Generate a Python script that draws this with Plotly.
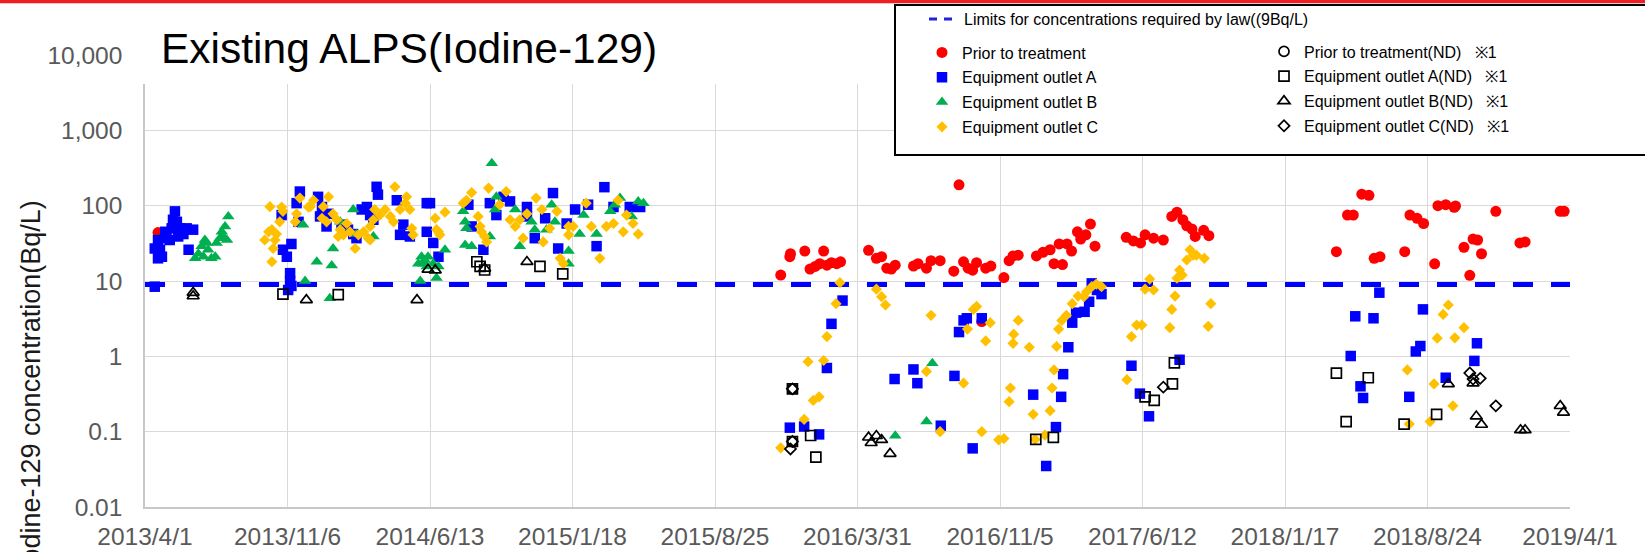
import pandas as pd
import plotly.graph_objects as go

# ---------------- data (day offsets are counted from 2013/4/1; values in Bq/L) ----------------
START = pd.Timestamp("2013-04-01")

tick_days = [0, 219, 438, 657, 876, 1095, 1314, 1533, 1752, 1971, 2190]
tick_labels = ["2013/4/1", "2013/11/6", "2014/6/13", "2015/1/18", "2015/8/25", "2016/3/31",
               "2016/11/5", "2017/6/12", "2018/1/17", "2018/8/24", "2019/4/1"]

y_tickvals = [0.01, 0.1, 1, 10, 100, 1000, 10000]
y_ticktext = ["0.01", "0.1", "1", "10", "100", "1,000", "10,000"]

limit_days = [0, 2190]
limit_vals = [9, 9]

prior_days = [20, 977, 991, 992, 1014, 1022, 1030, 1037, 1043, 1048, 1055, 1063, 1069, 1112, 1124, 1132,
              1140, 1147, 1153, 1181, 1188, 1201, 1208, 1222, 1243, 1251, 1258, 1265, 1272, 1278, 1286,
              1292, 1300, 1320, 1328, 1334, 1342, 1370, 1380, 1391, 1397, 1410, 1405, 1417, 1424, 1433,
              1438, 1446, 1453, 1460, 1508, 1519, 1530, 1537, 1550, 1565, 1578, 1586, 1595, 1601, 1609,
              1614, 1627, 1635, 1831, 1848, 1857, 1870, 1881, 1889, 1898, 1936, 1944, 1955, 1965, 1982,
              1987, 1999, 2012, 2014, 2027, 2036, 2041, 2048, 2054, 2076, 2113, 2121, 2175, 2181]
prior_vals = [44, 12, 21, 23, 25, 14.4, 15.6, 17, 25, 16.2, 17.5, 17, 18, 25.5, 20, 21,
              14.8, 14.4, 16.2, 15.8, 17, 14.8, 18.6, 18.6, 13.5, 189, 18, 14.8, 13.9, 17.5, 2.9,
              14.8, 15.8, 11.1, 18.6, 21.5, 22, 21.5, 24, 26, 17, 16.5, 31, 31, 25, 45,
              36, 41, 57, 29, 38, 34, 32, 41, 37, 35, 72, 82, 65, 54, 49,
              39, 47, 40, 24.5, 75, 75, 142, 137, 20, 21, 24.5, 75, 68, 58, 16.9,
              100, 103, 95, 99, 28, 11.9, 36, 35, 23, 84, 32, 33, 84, 84]

a_days = [15, 46, 43, 41, 31, 54, 64, 74, 20, 15, 20, 26, 33, 51, 59, 67, 49, 23, 38,
          210, 212, 218, 225, 223, 223, 225, 220, 233, 238, 266, 272, 236, 269,
          282, 279, 320, 333, 341, 346, 356, 358, 351, 387, 392, 397, 407, 433, 433, 312, 302, 325,
          438, 443, 451,
          497, 502, 520, 530, 540, 551, 561, 587, 587, 599, 615, 627, 635, 648, 661, 681, 694, 706,
          720, 745, 761,
          1072, 1055, 1048, 991, 1013, 1036, 1152, 1181, 1187, 1223, 1244, 1258, 1263, 1286, 1251, 1272,
          1385, 1365, 1400, 1408, 1411, 1419, 1425, 1431, 1444, 1451, 1455, 1470, 1463, 1516, 1529,
          1543, 1590,
          1897, 1860, 1888, 1853, 1868, 1872, 1964, 1960, 1953, 1943, 1999, 2047, 2043]
a_vals = [8.4, 84, 65, 50, 45, 50, 50, 48, 35, 27, 20, 21, 37, 39, 42, 26, 61, 26, 35,
          75, 26, 21, 31, 12.7, 10, 8.6, 7.6, 108, 154, 131, 96, 61, 72,
          78, 53, 42, 89, 96, 75, 178, 140, 65, 118, 41, 56, 39, 108, 45, 48, 56, 37,
          108, 32, 21,
          103, 53, 26, 108, 75, 131, 114, 96, 72, 37, 68, 147, 27, 58, 89, 103, 29, 176,
          96, 96, 96,
          5.5, 2.7, 0.70, 0.113, 0.117, 0.092, 0.50, 0.67, 0.44, 0.12, 0.55, 3.0, 3.2, 3.2, 2.1, 0.060,
          0.035, 0.31, 0.115, 0.29, 0.58, 1.32, 2.8, 3.8, 3.9, 5.3, 9.3, 6.7, 7.6, 0.75, 0.32,
          0.16, 0.90,
          7.0, 3.4, 3.2, 1.01, 0.40, 0.28, 4.2, 1.37, 1.16, 0.29, 0.52, 1.49, 0.87]

b_days = [128, 123, 118, 115, 126, 110, 92, 87, 82, 77, 97, 102, 108, 90, 120, 95,
          246, 243, 264, 289, 287, 284, 320, 300, 325, 351, 420, 425, 430, 423,
          428, 435, 443, 451, 448, 461, 433,
          533, 489, 492, 494, 492, 502, 530, 540, 538, 569, 576, 594, 599, 617, 625, 630, 651, 651,
          674, 668, 694, 715, 722, 730, 758, 766, 748,
          1210, 1201, 1153]
b_vals = [72, 53, 45, 37, 35, 32, 35, 29, 23, 20, 26, 20, 21, 21, 39, 32,
          10, 56, 18, 27, 16, 5.9, 89, 61, 42, 39, 17, 21, 19, 10,
          17, 21, 17, 15.6, 11, 26, 15.6,
          366, 84, 61, 50, 30, 29, 39, 131, 89, 89, 29, 61, 48, 48, 103, 61, 25, 17,
          75, 42, 42, 84, 103, 126, 114, 108, 72,
          0.81, 0.136, 0.088]

c_days = [192, 184, 190, 195, 197, 202, 207, 210, 212, 200, 195,
          238, 233, 231, 254, 259, 251, 282, 274, 272, 279, 289, 295, 300, 297, 310, 315, 323, 328,
          336, 343, 346, 351, 361, 369, 377, 382, 384, 392, 400, 402, 407, 410, 412, 353, 346, 305,
          446, 461, 451, 453, 448, 489, 502, 494, 528, 512, 515, 517, 522, 525, 545, 555, 561, 569,
          576, 587, 581, 601, 610, 612, 622, 633, 638, 643, 651, 658, 651, 678, 686, 699, 709, 720,
          727, 735, 740, 750, 758,
          1068, 1062, 1048, 1043, 1019, 1036, 1027, 1013, 977, 1124, 1132, 1138, 1208, 1201, 1222,
          1258, 1264, 1273, 1278, 1299, 1292, 1286, 1312,
          1320, 1328, 1330, 1335, 1334, 1342, 1359, 1365, 1368, 1383, 1391, 1394, 1397, 1401, 1404,
          1409, 1416, 1425, 1434, 1443, 1447, 1455, 1462, 1470, 1509, 1516, 1524, 1532, 1537, 1544,
          1550, 1575, 1578, 1583, 1586, 1590, 1594, 1601, 1606, 1611, 1616, 1628, 1638, 1634,
          2003, 1995, 1986, 2013, 2027, 1940, 1981, 2010, 1975, 1943]
c_vals = [97, 35, 45, 18, 27, 42, 61, 96, 84, 35, 48,
          126, 78, 61, 97, 118, 96, 131, 97, 68, 61, 78, 65, 48, 39, 58, 45, 27, 41,
          45, 37, 53, 65, 75, 89, 72, 61, 178, 89, 108, 131, 89, 50, 41, 89, 35, 41,
          68, 82, 45, 41, 48, 108, 149, 118, 171, 72, 53, 45, 39, 33, 103, 154, 65, 53,
          65, 78, 37, 126, 89, 33, 50, 84, 20, 17, 53, 53, 41, 108, 53, 20, 53, 58,
          118, 45, 75, 58, 42,
          9.5, 5.0, 1.83, 0.88, 0.85, 0.29, 0.26, 0.146, 0.061, 7.8, 6.2, 4.8, 3.5, 0.63, 0.10,
          0.44, 2.3, 4.2, 4.6, 2.8, 1.6, 0.10, 0.078,
          0.081, 0.25, 0.38, 1.97, 1.49, 3.0, 1.32, 0.17, 0.079, 0.090, 0.19, 0.38, 0.66, 1.35, 2.3,
          3.0, 3.5, 5.0, 6.3, 6.2, 7.2, 8.4, 9.1, 8.4, 0.49, 1.83, 2.6, 2.6, 7.8, 10.6,
          7.6, 2.4, 4.2, 6.3, 10.9, 14, 12, 19, 26, 22, 22, 20, 5.0, 2.5,
          4.8, 3.6, 1.74, 1.76, 2.4, 0.66, 0.43, 0.22, 0.136, 0.126]

prior_nd_days = [995, 995]
prior_nd_vals = [0.37, 0.074]

a_nd_days = [212, 297, 510, 515, 522, 607, 642, 995, 995, 1023, 1031, 1369, 1396, 1537, 1551,
             1579, 1582, 1831, 1880, 1846, 1935, 1985]
a_nd_vals = [6.7, 6.6, 18, 15.6, 14, 15.6, 12.4, 0.37, 0.074, 0.089, 0.046, 0.079, 0.084, 0.29, 0.26,
             0.43, 0.82, 0.60, 0.52, 0.136, 0.126, 0.17]

b_nd_days = [74, 74, 248, 418, 435, 446, 587, 522, 1112, 1124, 1132, 1116, 1145, 2003, 2041, 2046,
             2054, 2114, 2121, 2175, 2180]
b_nd_vals = [7.0, 6.3, 5.6, 5.6, 14.2, 13.9, 18, 14.7, 0.084, 0.088, 0.078, 0.071, 0.051, 0.43, 0.44,
             0.16, 0.124, 0.105, 0.105, 0.22, 0.18]

c_nd_days = [995, 995, 992, 1565, 2036, 2052, 2076, 2041]
c_nd_vals = [0.37, 0.074, 0.059, 0.39, 0.60, 0.51, 0.22, 0.50]

# ---------------- figure ----------------
FONT = "Liberation Sans, Arial, sans-serif"
W, H = 1645, 552
ML, MR, MT, MB = 145, 75, 55, 45
PW, PH = W - ML - MR, H - MT - MB


def px(x):
    return (x - ML) / PW


def py(y):
    return (H - MB - y) / PH


def cx(x):
    return x / W


def cy(y):
    return 1 - y / H


def dates(days):
    return [START + pd.Timedelta(days=int(d)) for d in days]


fig = go.Figure()

fig.add_trace(go.Scatter(x=dates(limit_days), y=limit_vals, mode="lines",
                         line=dict(color="#0000FF", width=5, dash="20px,18px"),
                         showlegend=False, hoverinfo="skip"))
fig.add_trace(go.Scatter(x=[None], y=[None], mode="lines",
                         line=dict(color="#2020E0", width=3, dash="8px,7px"),
                         name="Limits for concentrations required by law((9Bq/L)", legend="legend"))

series = [
    ("Prior to treatment", prior_days, prior_vals, "circle", "#FF0000", 11, "legend2", 1),
    ("Equipment outlet A", a_days, a_vals, "square", "#0000FF", 10.5, "legend2", 2),
    ("Equipment outlet B", b_days, b_vals, "triangle-up", "#00B050", 11, "legend2", 3),
    ("Equipment outlet C", c_days, c_vals, "diamond", "#FFC000", 8.6, "legend2", 4),
]
for name, d, v, sym, col, size, lg, rank in series:
    fig.add_trace(go.Scatter(x=dates(d), y=v, mode="markers", name=name,
                             marker=dict(symbol=sym, color=col, size=size, line=dict(width=0)),
                             legend=lg, legendgroup=name, legendrank=rank))

nd_series = [
    ("Prior to treatment(ND)\u00a0\u00a0\u00a0※1", prior_nd_days, prior_nd_vals, "circle-open", 10, 1),
    ("Equipment outlet A(ND)\u00a0\u00a0\u00a0※1", a_nd_days, a_nd_vals, "square-open", 10, 2),
    ("Equipment outlet B(ND)\u00a0\u00a0\u00a0※1", b_nd_days, b_nd_vals, "triangle-up-open", 10.5, 3),
    ("Equipment outlet C(ND)\u00a0\u00a0\u00a0※1", c_nd_days, c_nd_vals, "diamond-open", 8.5, 4),
]
for name, d, v, sym, size, rank in nd_series:
    fig.add_trace(go.Scatter(x=dates(d), y=v, mode="markers", name=name,
                             marker=dict(symbol=sym, color="#000000", size=size,
                                         line=dict(width=1.7, color="#000000")),
                             legend="legend3", legendgroup=name, legendrank=rank))

axis_common = dict(showgrid=True, gridcolor="#D9D9D9", gridwidth=1.3,
                   showline=True, linecolor="#C8C8C8", linewidth=1.5,
                   ticks="", zeroline=False, automargin=False,
                   tickfont=dict(family=FONT, size=24.5, color="#595959"))

fig.update_xaxes(type="date", range=[START, START + pd.Timedelta(days=2190)],
                 tickmode="array", tickvals=dates(tick_days), ticktext=tick_labels,
                 ticklabelstandoff=7, **axis_common)
fig.update_yaxes(type="log", range=[-2, 4], tickmode="array",
                 tickvals=y_tickvals, ticktext=y_ticktext, ticklabelstandoff=16, **axis_common)

legend_common = dict(bgcolor="rgba(0,0,0,0)", borderwidth=0, xanchor="left", yanchor="top",
                     xref="container", yref="container",
                     font=dict(family=FONT, size=16, color="#000000"),
                     traceorder="grouped", tracegroupgap=1, itemclick=False, itemdoubleclick=False)

fig.update_layout(
    width=W, height=H,
    margin=dict(l=ML, r=MR, t=MT, b=MB, pad=0, autoexpand=False),
    paper_bgcolor="white", plot_bgcolor="white",
    font=dict(family=FONT),
    showlegend=True,
    legend=dict(x=cx(924), y=cy(2), **legend_common),
    legend2=dict(x=cx(922), y=cy(35.5), **legend_common),
    legend3=dict(x=cx(1264), y=cy(34.5), **legend_common),
    shapes=[
        dict(type="rect", xref="paper", yref="paper", x0=-0.002, x1=1.002, y0=py(84), y1=1.004,
             fillcolor="white", line=dict(width=0), layer="above"),
        dict(type="rect", xref="paper", yref="paper", x0=px(895), x1=px(1660), y0=py(155), y1=py(5),
             fillcolor="white", line=dict(color="black", width=2), layer="above"),
        dict(type="rect", xref="paper", yref="paper", x0=px(-5), x1=px(1660), y0=py(3.3), y1=py(-3),
             fillcolor="#F01E23", line=dict(width=0), layer="above"),
    ],
    annotations=[
        dict(text="Existing ALPS(Iodine-129)", xref="paper", yref="paper", x=px(159), y=py(48.5),
             xanchor="left", yanchor="middle", showarrow=False,
             font=dict(family=FONT, size=42.5, color="#000000")),
        dict(text="Iodine-129 concentration(Bq/L)", xref="paper", yref="paper", x=px(31), y=py(386),
             xanchor="center", yanchor="middle", textangle=-90, showarrow=False,
             font=dict(family=FONT, size=27, color="#1A1A1A")),
    ],
)

fig.write_html("out.html", config={"displayModeBar": False},
               post_script="document.body.style.margin='0';document.body.style.overflow='hidden';")
